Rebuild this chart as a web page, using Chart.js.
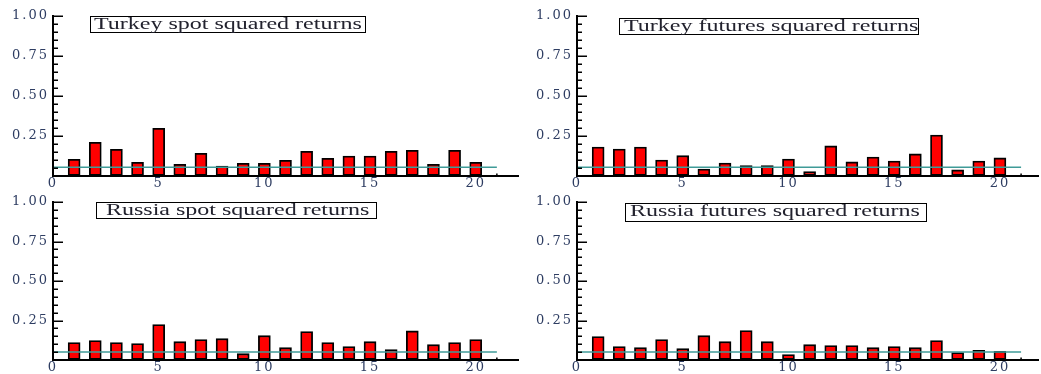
<!DOCTYPE html>
<html>
<head>
<meta charset="utf-8">
<script src="https://cdn.jsdelivr.net/npm/chart.js@4.4.1/dist/chart.umd.min.js"></script>
<style>
  html, body { margin: 0; padding: 0; background: #ffffff; }
  body { position: relative; width: 1041px; height: 374px; overflow: hidden; }
  canvas.panel { position: absolute; display: block; }
  .title { position: absolute; box-sizing: border-box; border: 1px solid #000;
           border-left-width: 1.5px; border-right-width: 1.5px;
           font-family: "Liberation Serif", "Times New Roman", serif; font-size: 16px;
           line-height: 14.5px; color: #22222e; white-space: nowrap; overflow: visible; }
  .title span { display: inline-block; transform: scaleX(1.5); transform-origin: 0 50%; }
</style>
</head>
<body>
<script>
// Lags of the autocorrelation bars
const lags = [1, 2, 3, 4, 5, 6, 7, 8, 9, 10, 11, 12, 13, 14, 15, 16, 17, 18, 19, 20];

// Squared-return autocorrelations by lag
const turkeySpot    = [0.104, 0.210, 0.167, 0.085, 0.298, 0.073, 0.142, 0.062, 0.079, 0.079,
                       0.098, 0.154, 0.110, 0.125, 0.125, 0.154, 0.160, 0.073, 0.160, 0.085];
const turkeyFutures = [0.181, 0.169, 0.181, 0.100, 0.127, 0.044, 0.081, 0.065, 0.065, 0.106,
                       0.027, 0.188, 0.088, 0.119, 0.094, 0.138, 0.256, 0.038, 0.094, 0.113];
const russiaSpot    = [0.110, 0.123, 0.110, 0.104, 0.224, 0.116, 0.129, 0.135, 0.040, 0.154,
                       0.078, 0.180, 0.110, 0.085, 0.116, 0.066, 0.184, 0.097, 0.110, 0.129];
const russiaFutures = [0.148, 0.085, 0.078, 0.129, 0.072, 0.154, 0.116, 0.186, 0.116, 0.034,
                       0.097, 0.091, 0.091, 0.078, 0.085, 0.078, 0.123, 0.047, 0.061, 0.055];

// Significance band level for each panel
const refLevels = [0.054, 0.054, 0.051, 0.051];
const refSpan = [0, 21];

const panelTitles = ["Turkey spot squared returns", "Turkey futures squared returns",
                     "Russia spot squared returns", "Russia futures squared returns"];

// Axis ticks
const xTickLabels = [0, 5, 10, 15, 20];
const yTickLabels = ["0.25", "0.50", "0.75", "1.00"];

const series = [turkeySpot, turkeyFutures, russiaSpot, russiaFutures];

// Panel geometry
const panelBoxes = [
  { left: 0,   top: 0,   width: 522, height: 195, padTop: 16, xAxisH: 19, xMax: 22.0, padRight: 4 },
  { left: 524, top: 0,   width: 517, height: 195, padTop: 16, xAxisH: 19, xMax: 21.8, padRight: 3 },
  { left: 0,   top: 186, width: 522, height: 188, padTop: 16, xAxisH: 14, xMax: 22.0, padRight: 4 },
  { left: 524, top: 186, width: 517, height: 188, padTop: 16, xAxisH: 14, xMax: 21.8, padRight: 3 }
];
const titleBoxes = [
  { left: 90.0,  top: 16.0,  width: 275.7, height: 16.5, pad: 2.8 },
  { left: 619.3, top: 18.3,  width: 299.7, height: 17.0, pad: 3.5 },
  { left: 95.7,  top: 202.0, width: 281.0, height: 17.3, pad: 9.5 },
  { left: 625.3, top: 203.3, width: 302.0, height: 18.4, pad: 4.2 }
];

const tickColor = "#2e3d62";
const fontFamily = '"DejaVu Serif", "Liberation Serif", serif';
Chart.defaults.font.family = fontFamily;

// Wide spacing for the axis numbers
const wideText = {
  id: "wideText",
  beforeUpdate(chart) { chart.ctx.letterSpacing = "2px"; },
  beforeDraw(chart) { chart.ctx.letterSpacing = "2px"; }
};

// Inward tick marks on the value axis, with a small mark on the lag axis
const innerTicks = {
  id: "innerTicks",
  afterDraw(chart) {
    const ctx = chart.ctx;
    const area = chart.chartArea;
    const y = chart.scales.y;
    const x = chart.scales.x;
    ctx.save();
    ctx.strokeStyle = "#000";
    ctx.lineWidth = 2;
    ctx.beginPath();
    ctx.moveTo(area.left, y.getPixelForValue(1) - 1);
    ctx.lineTo(area.left, y.getPixelForValue(0) + 1);
    ctx.stroke();
    ctx.lineWidth = 1.5;
    y.ticks.forEach(t => {
      if (t.value <= 0) return;
      const major = Math.abs(t.value * 4 - Math.round(t.value * 4)) < 1e-6;
      const py = Math.round(y.getPixelForValue(t.value)) + 0.25;
      ctx.beginPath();
      ctx.moveTo(area.left, py);
      ctx.lineTo(area.left + (major ? 10 : 5), py);
      ctx.stroke();
    });
    const px = x.getPixelForValue(refSpan[1]);
    ctx.beginPath();
    ctx.moveTo(px, area.bottom);
    ctx.lineTo(px, area.bottom - 2.5);
    ctx.stroke();
    ctx.restore();
  }
};

series.forEach((vals, i) => {
  const box = panelBoxes[i];
  const canvas = document.createElement("canvas");
  canvas.className = "panel";
  canvas.width = box.width;
  canvas.height = box.height;
  canvas.style.left = box.left + "px";
  canvas.style.top = box.top + "px";
  canvas.style.width = box.width + "px";
  canvas.style.height = box.height + "px";
  document.body.appendChild(canvas);

  const barPoints = lags.map((lag, k) => ({ x: lag, y: vals[k] }));
  const refPoints = refSpan.map(v => ({ x: v, y: refLevels[i] }));

  new Chart(canvas, {
    type: "bar",
    data: {
      datasets: [
        {
          type: "line",
          data: refPoints,
          borderColor: "#3f9b98",
          borderWidth: 1.5,
          pointRadius: 0,
          fill: false,
          order: 0
        },
        {
          type: "bar",
          data: barPoints,
          backgroundColor: "#ff0000",
          borderColor: "#000000",
          borderWidth: 1.8,
          borderSkipped: false,
          barThickness: 12,
          order: 1
        }
      ]
    },
    options: {
      responsive: false,
      animation: false,
      events: [],
      layout: { padding: { top: box.padTop, right: box.padRight, left: 0, bottom: 0 } },
      plugins: { legend: { display: false }, tooltip: { enabled: false }, title: { display: false } },
      scales: {
        x: {
          type: "linear",
          min: 0,
          max: box.xMax,
          offset: false,
          afterFit(s) { s.height = box.xAxisH; s.paddingLeft = 0; s.paddingRight = 0; },
          afterBuildTicks(s) { s.ticks = xTickLabels.map(v => ({ value: v })); },
          grid: { display: true, offset: false, drawOnChartArea: false, drawTicks: false },
          border: { display: true, color: "#000", width: 2 },
          ticks: {
            padding: 0,
            autoSkip: false,
            maxRotation: 0,
            color: tickColor,
            font: { size: 13, family: fontFamily },
            callback: v => String(v)
          }
        },
        y: {
          type: "linear",
          min: 0,
          max: 1,
          afterFit(s) { s.width = 53; s.paddingTop = 0; s.paddingBottom = 0; },
          grid: { display: true, drawOnChartArea: false, drawTicks: false },
          border: { display: true, color: "#000", width: 2 },
          ticks: {
            stepSize: 0.05,
            autoSkip: false,
            padding: 4,
            color: tickColor,
            font: { size: 13, family: fontFamily },
            callback(v) {
              const q = Math.round(v * 4);
              if (Math.abs(v * 4 - q) > 1e-6 || q === 0) return "";
              return yTickLabels[q - 1];
            }
          }
        }
      }
    },
    plugins: [wideText, innerTicks]
  });

  const tb = titleBoxes[i];
  const t = document.createElement("div");
  t.className = "title";
  t.style.left = tb.left + "px";
  t.style.top = tb.top + "px";
  t.style.width = tb.width + "px";
  t.style.height = tb.height + "px";
  t.style.paddingLeft = tb.pad + "px";
  const s = document.createElement("span");
  s.textContent = panelTitles[i];
  t.appendChild(s);
  document.body.appendChild(t);
});
</script>
</body>
</html>
